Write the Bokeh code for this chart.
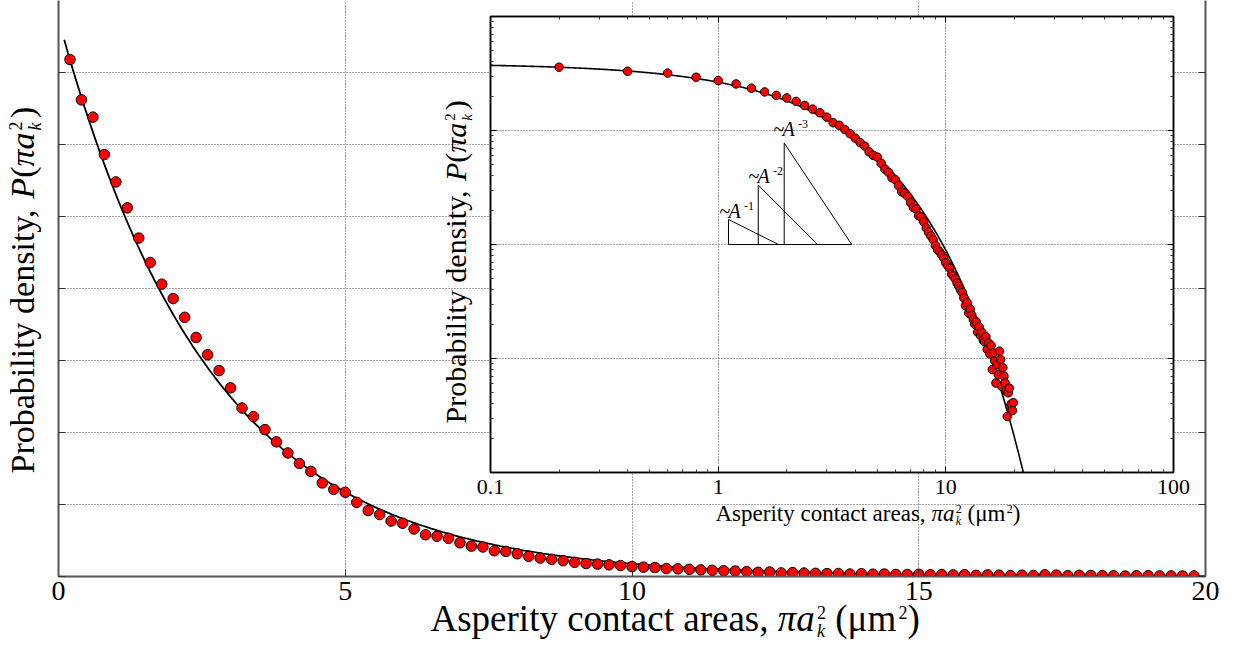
import math
from bokeh.plotting import figure
from bokeh.models import Range1d, LinearAxis, LogAxis, FixedTicker, CustomJSTickFormatter, Label
from bokeh.layouts import column
from bokeh.embed import file_html
from bokeh.resources import INLINE

# ---------------- data ----------------
area_x = [
    0.2, 0.4, 0.6, 0.8, 1.0, 1.2, 1.4, 1.6, 1.8, 2.0,
    2.2, 2.4, 2.6, 2.8, 3.0, 3.2, 3.4, 3.6, 3.8, 4.0,
    4.2, 4.4, 4.6, 4.8, 5.0, 5.2, 5.4, 5.6, 5.8, 6.0,
    6.2, 6.4, 6.6, 6.8, 7.0, 7.2, 7.4, 7.6, 7.8, 8.0,
    8.2, 8.4, 8.6, 8.8, 9.0, 9.2, 9.4, 9.6, 9.8, 10.0,
    10.2, 10.4, 10.6, 10.8, 11.0, 11.2, 11.4, 11.6, 11.8, 12.0,
    12.2, 12.4, 12.6, 12.8, 13.0, 13.2, 13.4, 13.6, 13.8, 14.0,
    14.2, 14.4, 14.6, 14.8, 15.0, 15.2, 15.4, 15.6, 15.8, 16.0,
    16.2, 16.4, 16.6, 16.8, 17.0, 17.2, 17.4, 17.6, 17.8, 18.0,
    18.2, 18.4, 18.6, 18.8, 19.0, 19.2, 19.4, 19.6, 19.8,
]
density = [
    0.359, 0.331, 0.319, 0.293, 0.274, 0.256, 0.235, 0.218, 0.203, 0.193,
    0.180, 0.166, 0.154, 0.143, 0.131, 0.117, 0.111, 0.102, 0.0935, 0.0858,
    0.0785, 0.0730, 0.0650, 0.0605, 0.0585, 0.0515, 0.0458, 0.0430, 0.0385, 0.0370,
    0.0330, 0.0290, 0.0280, 0.0265, 0.0234, 0.0211, 0.0205, 0.0179, 0.0174, 0.0158,
    0.0140, 0.0128, 0.0119, 0.0110, 0.0098, 0.0090, 0.0086, 0.0081, 0.0076, 0.0069,
    0.0065, 0.0062, 0.0055, 0.0053, 0.0050, 0.0046, 0.0043, 0.0040, 0.0038, 0.0034,
    0.0029, 0.0031, 0.0025, 0.0027, 0.0024, 0.0022, 0.0020, 0.0021, 0.0017, 0.0019,
    0.0016, 0.0017, 0.00145, 0.0014, 0.00155, 0.0012, 0.00137, 0.0011, 0.0013, 0.0008,
    0.00112, 0.00095, 0.00061, 0.00088, 0.00072, 0.00116, 0.00098, 0.00057, 0.00083, 0.0007,
    0.00061, 0.00052, 0.00031, 0.0005, 0.00055, 0.00038, 0.0004, 0.00035, 0.00041,
]
# exponential fit P(A) = fit_amp * exp(-A / fit_scale)
fit_amp = 0.387
fit_scale = 2.65

main_xticks = [0, 5, 10, 15, 20]
main_yticks = [0.0, 0.05, 0.10, 0.15, 0.20, 0.25, 0.30, 0.35]
inset_xticks = [0.1, 1, 10, 100]
inset_yticks = [1e-4, 1e-3, 1e-2, 1e-1, 1]

# power-law guide triangles: (left x, right x, exponent), common base level
tri_base = 0.01
triangles = [(1.11, 1.84, 1), (1.50, 2.73, 2), (1.95, 3.86, 3)]

FONT = "Liberation Serif"

# ---------------- geometry (page pixels) ----------------
# shared left / right borders (plots in a column get aligned)
BL, BR = 58, 25
MAIN_FW, MAIN_FH, MAIN_BB = 1147, 576, 70
MAIN_W = BL + MAIN_FW + BR
MAIN_H = MAIN_FH + MAIN_BB

IN_LEFT, IN_TOP = 490, 16          # inset frame position on page
IN_FW, IN_FH = 683, 456
IN_BT, IN_BB = 8, 64
IN_W = BL + IN_FW + BR
IN_H = IN_BT + IN_FH + IN_BB
IN_FIG_TOP = IN_TOP - IN_BT

OV_FW = MAIN_FW                    # overlay frame covers page x 0..1147
OV_H = MAIN_H

BASE_FIX = 0.32                    # measured baseline offset of rendered labels (em)


def mx(sx):
    return (sx - BL) * 20.0 / MAIN_FW


def my(sy):
    return (MAIN_FH - sy) * 0.05 / 72.0


def ix(sx):
    return 10 ** ((sx - IN_LEFT) / (IN_FW / 3.0) - 1)


def iy(sy):
    return 10 ** (-(sy - IN_TOP) / (IN_FH / 4.0))


def ident(v):
    return v


REG = {'A': 722, 's': 389, 'p': 500, 'e': 444, 'r': 333, 'i': 278, 't': 278, 'y': 500,
       ' ': 250, 'c': 444, 'o': 500, 'n': 500, 'a': 444, ',': 250, '(': 333, ')': 333,
       'μ': 560, 'm': 778, '2': 500, 'P': 556, 'b': 500, 'l': 278, 'd': 500, '~': 541}
ITA = {'π': 560, 'a': 500, 'k': 444, 'P': 611, 'A': 611}


def text_w(s, size, italic):
    tab = ITA if italic else REG
    return sum(tab.get(ch, 500) for ch in s) / 1000.0 * size


def rich(fig, cx, cy, x0, y0, pieces, vertical=False):
    pos = 0.0
    for txt, size, italic, rise, adv in pieces:
        lift = rise + BASE_FIX * size
        if vertical:
            sx, sy = x0 - lift, y0 - pos
        else:
            sx, sy = x0 + pos, y0 - lift
        fig.add_layout(Label(
            x=cx(sx), y=cy(sy), text=txt, angle=(math.pi / 2 if vertical else 0.0),
            text_font=FONT, text_font_size=f"{size}px",
            text_font_style=("italic" if italic else "normal"),
            text_align="left", text_baseline="alphabetic", text_color="black"))
        if adv is None:
            pos += text_w(txt, size, italic)
        else:
            pos += adv


def label_pieces(size, small):
    return [
        ("Asperity contact areas, ", size, False, 0, None),
        ("πa", size, True, 0, None),
        ("k", small, True, -0.17 * size, 0),
        ("2", small, False, 0.33 * size, text_w("2", small, False) + text_w(" ", size, False)),
        ("(μm", size, False, 0, text_w("(μm", size, False) + 0.04 * size),
        ("2", small, False, 0.33 * size, None),
        (")", size, False, 0, None),
    ]


def ylabel_pieces(size, small):
    return [
        ("Probability density, ", size, False, 0, None),
        ("P", size, True, 0, None),
        ("(", size, False, 0, None),
        ("πa", size, True, 0, None),
        ("k", small, True, -0.2 * size, 0),
        ("2", small, False, 0.35 * size, text_w("2", small, False) + 0.1 * size),
        (")", size, False, 0, None),
    ]


def blank():
    return CustomJSTickFormatter(code="return ''")


GRID_COLOR = "#4d4d4d"

# ---------------- main figure ----------------
p = figure(width=MAIN_W, height=MAIN_H, x_range=Range1d(0, 20), y_range=Range1d(0, my(0)),
           output_backend="svg", toolbar_location=None,
           min_border_left=BL, min_border_right=BR, min_border_top=0, min_border_bottom=MAIN_BB)
p.outline_line_color = None
p.background_fill_color = "white"
p.border_fill_color = "white"

p.xaxis.ticker = FixedTicker(ticks=main_xticks)
p.yaxis.ticker = FixedTicker(ticks=main_yticks)
p.yaxis.formatter = blank()
p.yaxis.major_label_text_font_size = "0px"
for ax in (p.xaxis[0], p.yaxis[0]):
    ax.axis_line_color = "#555555"
    ax.axis_line_width = 2
    ax.major_tick_in = 7
    ax.major_tick_out = 0
    ax.major_tick_line_color = "#333333"
    ax.minor_tick_line_color = None
p.xaxis.major_label_text_font = FONT
p.xaxis.major_label_text_font_size = "28px"
p.xaxis.major_label_text_color = "black"
p.xaxis.major_label_standoff = 5

right_ax = LinearAxis(ticker=FixedTicker(ticks=main_yticks), formatter=blank(),
                      major_label_text_font_size="0px", major_label_standoff=0,
                      major_tick_in=7, major_tick_out=0,
                      minor_tick_line_color=None, axis_line_color="#555555", axis_line_width=2,
                      major_tick_line_color="#333333")
p.add_layout(right_ax, "right")

p.grid.grid_line_color = GRID_COLOR
p.grid.grid_line_dash = "1 2"
p.grid.grid_line_width = 1

curve_main_x = [0.1 + i * 0.05 for i in range(399)]
curve_main_y = [fit_amp * math.exp(-a / fit_scale) for a in curve_main_x]
p.line(curve_main_x, curve_main_y, line_color="black", line_width=1.8)
p.scatter(area_x, density, size=10.5, fill_color="#ff0000", line_color="black", line_width=1)

# ---------------- inset figure ----------------
q = figure(width=IN_W, height=IN_H,
           x_axis_type="log", y_axis_type="log",
           x_range=Range1d(0.1, 100), y_range=Range1d(1e-4, 1),
           output_backend="svg", toolbar_location=None,
           min_border_left=BL, min_border_right=BR, min_border_top=IN_BT, min_border_bottom=IN_BB,
           margin=(IN_FIG_TOP - MAIN_H, 0, 0, IN_LEFT - BL))
q.border_fill_color = None
q.background_fill_color = "white"
q.outline_line_color = "black"
q.outline_line_width = 1.5

x_minor = [m * 10.0 ** e for e in (-1, 0, 1) for m in range(2, 10)]
y_minor = [m * 10.0 ** e for e in (-4, -3, -2, -1) for m in range(2, 10)]

q.xaxis.ticker = FixedTicker(ticks=inset_xticks, minor_ticks=x_minor)
q.yaxis.ticker = FixedTicker(ticks=inset_yticks, minor_ticks=y_minor)
q.xaxis.formatter = CustomJSTickFormatter(code="return String(tick)")
q.yaxis.formatter = blank()
q.yaxis.major_label_text_font_size = "0px"
q.yaxis.major_label_standoff = 0
q.xaxis.major_label_text_font = FONT
q.xaxis.major_label_text_font_size = "22px"
q.xaxis.major_label_text_color = "black"
q.xaxis.major_label_standoff = 7
for ax in (q.xaxis[0], q.yaxis[0]):
    ax.axis_line_color = "black"
    ax.axis_line_width = 1.5
    ax.major_tick_in = 6
    ax.major_tick_out = 0
    ax.minor_tick_in = 3
    ax.minor_tick_out = 0
    ax.minor_tick_line_color = "#333333"

for loc, ticks, minors in (("above", inset_xticks, x_minor), ("right", inset_yticks, y_minor)):
    q.add_layout(LogAxis(ticker=FixedTicker(ticks=ticks, minor_ticks=minors), formatter=blank(),
                         major_label_text_font_size="0px", major_label_standoff=0,
                         major_tick_in=6, major_tick_out=0, minor_tick_in=3, minor_tick_out=0,
                         axis_line_color="black", axis_line_width=1.5,
                         minor_tick_line_color="#333333"), loc)

q.grid.grid_line_color = GRID_COLOR
q.grid.grid_line_dash = "1 2"
q.grid.grid_line_width = 1

curve_in_x = [10 ** (-1 + i * 0.005) for i in range(501)]
curve_in_y = [fit_amp * math.exp(-a / fit_scale) for a in curve_in_x]
q.line(curve_in_x, curve_in_y, line_color="black", line_width=1.6)
q.scatter(area_x, density, size=8.5, fill_color="#ff0000", line_color="black", line_width=1)

# guide triangles
tri_xs, tri_ys = [], []
for x0, x1, n in triangles:
    apex = tri_base * (x1 / x0) ** n
    tri_xs.append([x0, x0, x1])
    tri_ys.append([tri_base, apex, tri_base])
q.multi_line(tri_xs, tri_ys, line_color="black", line_width=1)
q.line([triangles[0][0], triangles[-1][1]], [tri_base, tri_base], line_color="black", line_width=1)

for (sx, sy, sup) in [(719, 217, "-1"), (748, 182, "-2"), (773, 135, "-3")]:
    rich(q, ix, iy, sx, sy, [("~", 20, False, 0, 9.0), ("A", 20, True, 0, 15.5),
                             (sup, 12, False, 8, None)])

# ---------------- overlay for axis titles (page coordinates) ----------------
o = figure(width=BL + OV_FW + BR, height=OV_H, x_range=Range1d(0, OV_FW), y_range=Range1d(OV_H, 0),
           output_backend="svg", toolbar_location=None,
           x_axis_location=None, y_axis_location=None,
           min_border_left=BL, min_border_right=BR, min_border_top=0, min_border_bottom=0,
           margin=(-(IN_FIG_TOP + IN_H), 0, 0, -BL))
o.grid.visible = False
o.outline_line_color = None
o.background_fill_color = None
o.border_fill_color = None

rich(o, ident, ident, 430, 630, label_pieces(37, 18))
rich(o, ident, ident, 33, 473, ylabel_pieces(34, 18), vertical=True)
rich(o, ident, ident, 715, 520, label_pieces(23, 12))
rich(o, ident, ident, 465, 423, ylabel_pieces(30, 15), vertical=True)

layout = column(p, q, o)
open("out.html", "w").write(file_html(layout, INLINE))
